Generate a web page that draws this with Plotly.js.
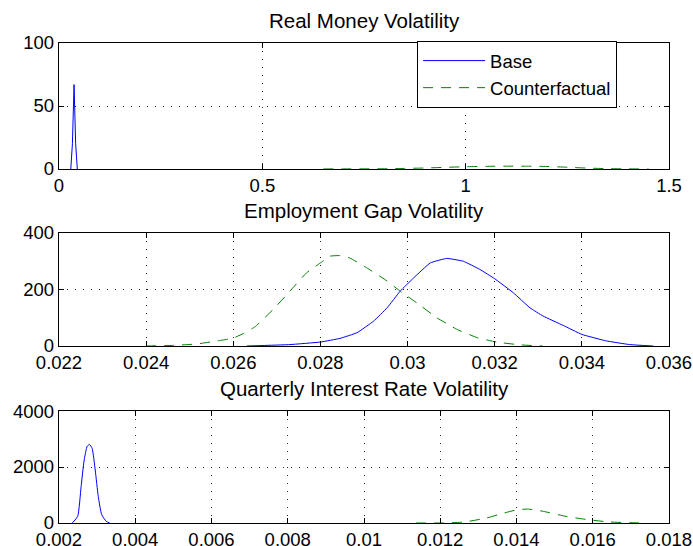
<!DOCTYPE html>
<html>
<head>
<meta charset="utf-8">
<script src="https://cdn.plot.ly/plotly-3.0.1.min.js"></script>
<style>html,body{margin:0;padding:0;background:#fff;}#chart{width:693px;height:546px;}</style>
</head>
<body>
<div id="chart"></div>
<script>
// ---- Data ----
const seriesNames = ["Base", "Counterfactual"];
const panelTitles = ["Real Money Volatility", "Employment Gap Volatility", "Quarterly Interest Rate Volatility"];

// Panel 1: Real Money Volatility
const money_base_x = [0.029, 0.033, 0.037, 0.041, 0.045];
const money_base_y = [0, 20, 67, 20, 0];
const money_cf_x = [0.65, 0.70, 0.75, 0.80, 0.85, 0.90, 0.95, 1.00, 1.05, 1.10, 1.15, 1.20, 1.25, 1.30, 1.35, 1.40, 1.45];
const money_cf_y = [0.05, 0.1, 0.15, 0.25, 0.45, 0.8, 1.3, 1.8, 2.1, 2.25, 2.2, 2.0, 1.4, 0.7, 0.3, 0.1, 0.03];

// Panel 2: Employment Gap Volatility
const emp_base_x = [0.02631, 0.0273, 0.0280, 0.02845, 0.02884, 0.02922, 0.02953, 0.02983, 0.03014, 0.03052, 0.0309, 0.03128, 0.03166, 0.0320, 0.03243, 0.03281, 0.03311, 0.03357, 0.0340, 0.03456, 0.0351, 0.03564];
const emp_base_y = [0, 5, 14, 27, 47, 88, 135, 194, 241, 294, 310, 300, 271, 238, 188, 135, 106, 73, 41, 18, 5, 0];
const emp_cf_x = [0.0240, 0.02461, 0.02515, 0.02564, 0.0260, 0.02623, 0.0265, 0.02692, 0.0273, 0.02768, 0.0280, 0.02822, 0.02845, 0.02868, 0.02906, 0.02953, 0.02983, 0.03021, 0.03067, 0.03113, 0.03159, 0.03204, 0.03258, 0.0331];
const emp_cf_y = [0, 2, 7, 18, 28, 44, 68, 130, 194, 259, 294, 318, 320, 311, 277, 230, 194, 153, 100, 59, 30, 14, 4, 0];

// Panel 3: Quarterly Interest Rate Volatility
const rate_base_x = [0.00235, 0.00249, 0.00258, 0.00266, 0.00274, 0.0028, 0.00287, 0.00295, 0.00303, 0.00312, 0.00324, 0.00333];
const rate_base_y = [0, 237, 1302, 2249, 2746, 2805, 2663, 1893, 947, 296, 59, 0];
const rate_cf_x = [0.01136, 0.01205, 0.01263, 0.01321, 0.01367, 0.01402, 0.01431, 0.01471, 0.0153, 0.01588, 0.01646, 0.01727];
const rate_cf_y = [0, 0, 35, 178, 355, 473, 497, 414, 237, 118, 35, 0];

// Tick values and labels
const x1_ticks = [0, 0.5, 1, 1.5];
const x1_labels = ["0", "0.5", "1", "1.5"];
const y1_ticks = [0, 50, 100];
const y1_labels = ["0", "50", "100"];
const x2_ticks = [0.022, 0.024, 0.026, 0.028, 0.030, 0.032, 0.034, 0.036];
const x2_labels = ["0.022", "0.024", "0.026", "0.028", "0.03", "0.032", "0.034", "0.036"];
const y2_ticks = [0, 200, 400];
const y2_labels = ["0", "200", "400"];
const x3_ticks = [0.002, 0.004, 0.006, 0.008, 0.010, 0.012, 0.014, 0.016, 0.018];
const x3_labels = ["0.002", "0.004", "0.006", "0.008", "0.01", "0.012", "0.014", "0.016", "0.018"];
const y3_ticks = [0, 2000, 4000];
const y3_labels = ["0", "2000", "4000"];

// ---- Styling ----
const FONT = "Liberation Sans, Arial, Helvetica, sans-serif";
const FS = 18.5;
const TFS = 20.5;
const BLUE = "#0000ff";
const GREEN = "#008000";
const baseLine = {color: BLUE, width: 1};
const cfLine = {color: GREEN, width: 1, dash: "10px,8px"};
const smooth = {shape: "spline", smoothing: 0.5};

const traces = [
  {x: money_base_x, y: money_base_y, xaxis: "x", yaxis: "y", name: seriesNames[0], mode: "lines", line: baseLine, showlegend: true},
  {x: money_cf_x, y: money_cf_y, xaxis: "x", yaxis: "y", name: seriesNames[1], mode: "lines", line: Object.assign({}, cfLine, smooth), showlegend: true},
  {x: emp_base_x, y: emp_base_y, xaxis: "x2", yaxis: "y2", name: seriesNames[0], mode: "lines", line: Object.assign({}, baseLine, {shape: "spline", smoothing: 0.3}), showlegend: false},
  {x: emp_cf_x, y: emp_cf_y, xaxis: "x2", yaxis: "y2", name: seriesNames[1], mode: "lines", line: Object.assign({}, cfLine, {shape: "spline", smoothing: 0.3}), showlegend: false},
  {x: rate_base_x, y: rate_base_y, xaxis: "x3", yaxis: "y3", name: seriesNames[0], mode: "lines", line: Object.assign({}, baseLine, smooth), showlegend: false},
  {x: rate_cf_x, y: rate_cf_y, xaxis: "x3", yaxis: "y3", name: seriesNames[1], mode: "lines", line: Object.assign({}, cfLine, smooth), showlegend: false}
];

function ax(extra) {
  return Object.assign({
    showline: true, linecolor: "#000", linewidth: 1.2, mirror: "ticks",
    ticks: "inside", ticklen: 5, tickcolor: "#000", tickwidth: 1,
    showgrid: true, gridcolor: "#222", gridwidth: 1, griddash: "1px,7px",
    zeroline: false, tickmode: "array",
    tickfont: {family: FONT, size: FS, color: "#000"},
    fixedrange: true
  }, extra);
}

const doms = [[0.7375, 1.0], [0.36875, 0.6042], [0.0, 0.2333]];

const layout = {
  width: 693, height: 546,
  margin: {l: 59, r: 24, t: 43, b: 23},
  paper_bgcolor: "#fff", plot_bgcolor: "#fff",
  font: {family: FONT, size: FS, color: "#000"},
  showlegend: true,
  legend: {
    x: 0.587, y: 1.004, xanchor: "left", yanchor: "top",
    bgcolor: "#fff", bordercolor: "#000", borderwidth: 1,
    font: {family: FONT, size: FS, color: "#000"},
    itemwidth: 62, tracegroupgap: 0
  },
  xaxis: ax({domain: [0, 1], anchor: "y", range: [0, 1.5], tickvals: x1_ticks, ticktext: x1_labels}),
  yaxis: ax({domain: doms[0], anchor: "x", range: [0, 100], tickvals: y1_ticks, ticktext: y1_labels}),
  xaxis2: ax({domain: [0, 1], anchor: "y2", range: [0.022, 0.036], tickvals: x2_ticks, ticktext: x2_labels}),
  yaxis2: ax({domain: doms[1], anchor: "x2", range: [0, 400], tickvals: y2_ticks, ticktext: y2_labels}),
  xaxis3: ax({domain: [0, 1], anchor: "y3", range: [0.002, 0.018], tickvals: x3_ticks, ticktext: x3_labels}),
  yaxis3: ax({domain: doms[2], anchor: "x3", range: [0, 4000], tickvals: y3_ticks, ticktext: y3_labels}),
  annotations: panelTitles.map((t, i) => ({
    text: t, xref: "paper", yref: "paper", x: 0.5, y: doms[i][1],
    xanchor: "center", yanchor: "bottom", yshift: 9, showarrow: false,
    font: {family: FONT, size: TFS, color: "#000"}
  }))
};

Plotly.newPlot("chart", traces, layout, {displayModeBar: false, staticPlot: true});
</script>
</body>
</html>
